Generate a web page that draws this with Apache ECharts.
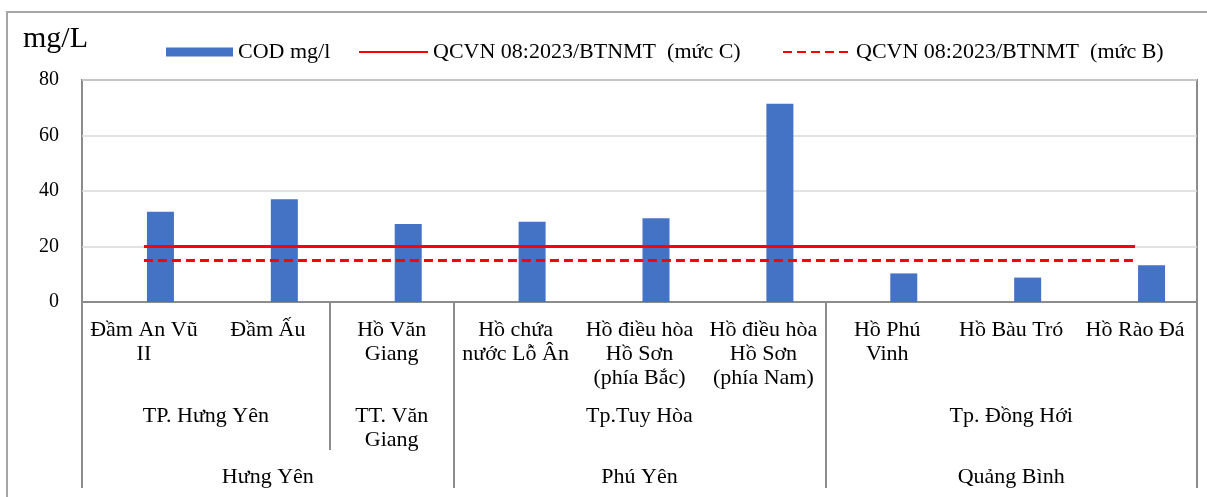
<!DOCTYPE html>
<html><head><meta charset="utf-8">
<script src="https://cdn.jsdelivr.net/npm/echarts@6/dist/echarts.min.js"></script>
<style>html,body{margin:0;padding:0;background:#fff}#c{width:1207px;height:497px}</style>
</head><body><div id="c"></div>
<script>
const categories = ['Đầm An Vũ\nII', 'Đầm Ấu', 'Hồ Văn\nGiang', 'Hồ chứa\nnước Lỗ Ân', 'Hồ điều hòa\nHồ Sơn\n(phía Bắc)', 'Hồ điều hòa\nHồ Sơn\n(phía Nam)', 'Hồ Phú\nVinh', 'Hồ Bàu Tró', 'Hồ Rào Đá'];
const codValues = [32.5, 37.0, 28.1, 28.9, 30.2, 71.4, 10.3, 8.8, 13.2];
const qcvnC = [20, 20, 20, 20, 20, 20, 20, 20, 20];
const qcvnB = [15, 15, 15, 15, 15, 15, 15, 15, 15];
const cities = ['TP. Hưng Yên', 'TT. Văn\nGiang', 'Tp.Tuy Hòa', 'Tp. Đồng Hới'];
const citySpans = [2, 1, 3, 3];
const provinces = ['Hưng Yên', 'Phú Yên', 'Quảng Bình'];
const provinceSpans = [3, 3, 3];
const seriesNames = ['COD mg/l', 'QCVN 08:2023/BTNMT  (mức C)', 'QCVN 08:2023/BTNMT  (mức B)'];

const FONT = 'Liberation Serif';
const GRAY = '#8c8c8c';
const FS = 22;

function groupAxis(names, spans) {
  const n = 2 * categories.length + 1;
  const labels = new Array(n).fill('');
  const ticks = new Array(n).fill(false);
  let pos = 0; ticks[0] = true;
  names.forEach((nm, i) => { labels[pos + spans[i]] = nm; pos += 2 * spans[i]; ticks[pos] = true; });
  return { labels, ticks, data: labels.map((_, i) => String(i)) };
}
const lvl2 = groupAxis(cities, citySpans);
const lvl3 = groupAxis(provinces, provinceSpans);

const G = { top: 80, height: 222, width: 1115 };
const grids = [
  Object.assign({ left: 82, show: true, borderColor: GRAY, borderWidth: 2, outerBoundsMode: 'none' }, G),
  Object.assign({ left: 98.5, outerBoundsMode: 'none' }, G),
  Object.assign({ left: 82, outerBoundsMode: 'none' }, G),
  Object.assign({ left: 82, outerBoundsMode: 'none' }, G)
];

function groupXAxis(gi, g, margin, tickLen) {
  return {
    type: 'category', gridIndex: gi, boundaryGap: false, data: g.data, position: 'bottom',
    axisLine: { show: false },
    axisTick: { show: true, length: tickLen, interval: (i) => g.ticks[i], lineStyle: { color: GRAY, width: 2 } },
    axisLabel: { interval: 0, margin: margin, fontSize: FS, lineHeight: 24, fontFamily: FONT, color: '#000',
      formatter: (v) => g.labels[+v] },
    splitLine: { show: false }
  };
}

const hiddenY = (gi) => ({ type: 'value', gridIndex: gi, min: 0, max: 80, interval: 20, show: false });
const legendText = { fontSize: FS, fontFamily: FONT, color: '#000' };

const option = {
  animation: false,
  backgroundColor: '#fff',
  textStyle: { fontFamily: FONT },
  graphic: [{ type: 'rect', silent: true, z: -10, shape: { x: 7, y: 12, width: 1230, height: 520 },
    style: { fill: 'none', stroke: '#a6a6a6', lineWidth: 2 } }],
  legend: [
    { data: [seriesNames[0]], left: 166, top: 41, padding: 0, icon: 'rect', itemWidth: 67, itemHeight: 9,
      textStyle: legendText },
    { data: [seriesNames[1]], left: 358, top: 41, padding: 0, itemWidth: 69, itemHeight: 9,
      itemStyle: { opacity: 0 }, textStyle: legendText },
    { data: [seriesNames[2]], left: 782, top: 41, padding: 0, itemWidth: 68, itemHeight: 9,
      itemStyle: { opacity: 0 }, textStyle: legendText }
  ],
  grid: grids,
  xAxis: [
    { type: 'category', gridIndex: 0, data: categories,
      axisLine: { show: true, lineStyle: { color: GRAY, width: 2 } },
      axisTick: { show: false },
      axisLabel: { interval: 0, margin: 16, fontSize: FS, lineHeight: 24, fontFamily: FONT, color: '#000' } },
    { type: 'category', gridIndex: 1, data: categories, show: false },
    groupXAxis(2, lvl2, 102, 148),
    groupXAxis(3, lvl3, 163, 186)
  ],
  yAxis: [
    { type: 'value', gridIndex: 0, min: 0, max: 80, interval: 20,
      name: 'mg/L', nameLocation: 'end', nameGap: 26,
      nameTextStyle: { fontSize: 30, fontFamily: FONT, color: '#000', align: 'right', verticalAlign: 'bottom', padding: [0, -6, 0, 0] },
      axisLine: { show: false }, axisTick: { show: false },
      axisLabel: { fontSize: 20, margin: 23, fontFamily: FONT, color: '#000' },
      splitLine: { lineStyle: { color: '#d9d9d9', width: 1.5 } } },
    hiddenY(1), hiddenY(2), hiddenY(3)
  ],
  series: [
    { name: seriesNames[0], type: 'bar', xAxisIndex: 1, yAxisIndex: 1, data: codValues, barWidth: 27,
      itemStyle: { color: '#4472C4' } },
    { name: seriesNames[1], type: 'line', xAxisIndex: 0, yAxisIndex: 0, data: qcvnC, symbol: 'none', z: 5,
      itemStyle: { color: '#ff0000' }, lineStyle: { color: '#ff0000', width: 3 } },
    { name: seriesNames[2], type: 'line', xAxisIndex: 0, yAxisIndex: 0, data: qcvnB, symbol: 'none', z: 5,
      itemStyle: { color: '#ff0000' }, lineStyle: { color: '#ff0000', width: 3, type: [9, 5] } }
  ]
};
echarts.init(document.getElementById('c')).setOption(option);
</script></body></html>
